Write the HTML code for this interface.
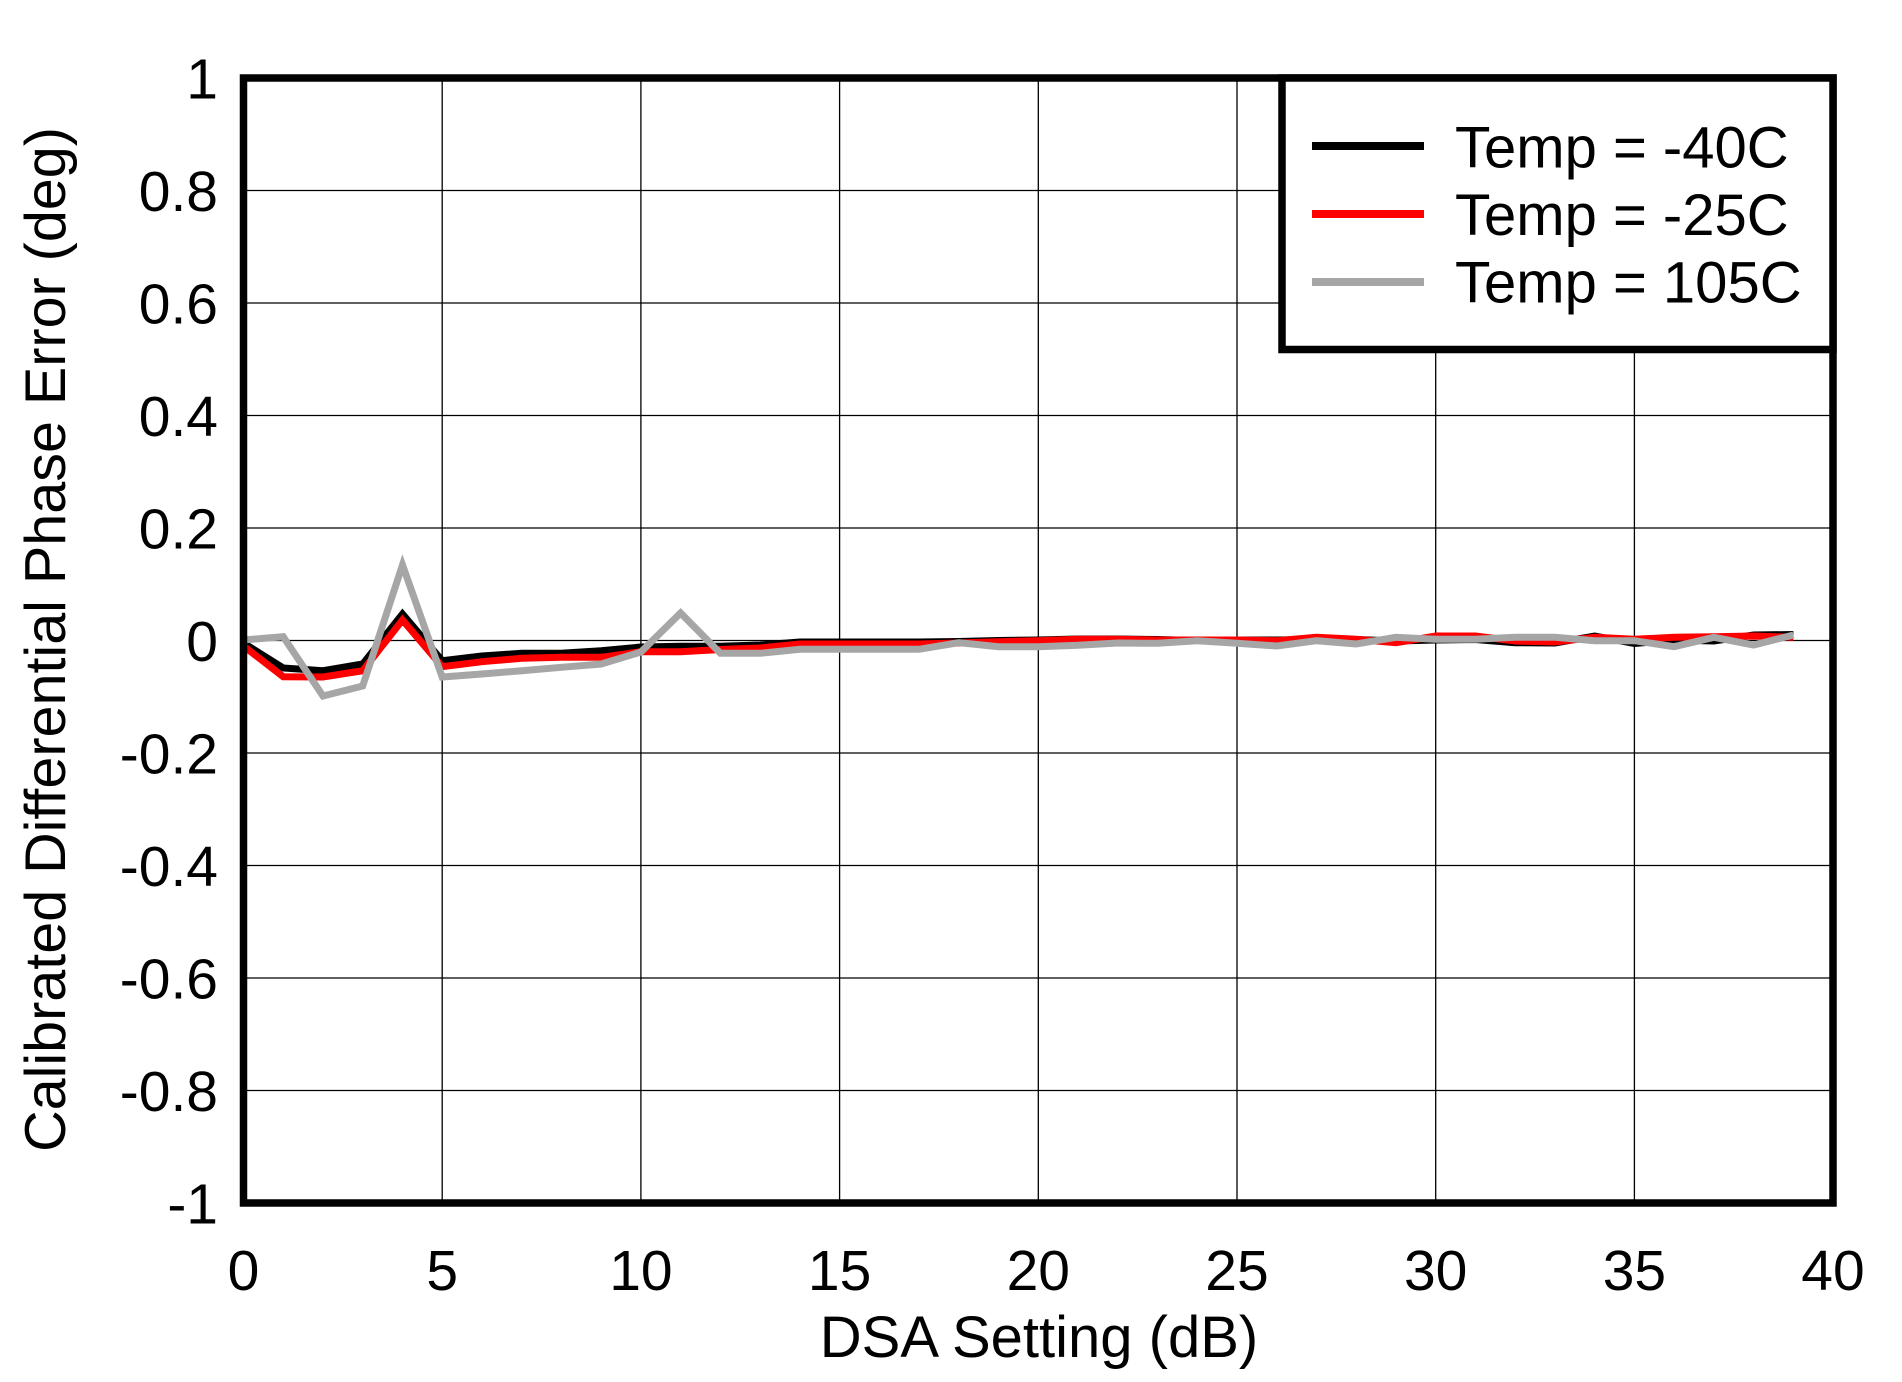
<!DOCTYPE html>
<html>
<head>
<meta charset="utf-8">
<style>
  html, body { margin: 0; padding: 0; background: #ffffff; }
  svg { display: block; }
  text { font-family: "Liberation Sans", Arial, sans-serif; fill: #000; }
</style>
</head>
<body>
<svg width="1902" height="1382" viewBox="0 0 1902 1382" xmlns="http://www.w3.org/2000/svg">
  <rect x="0" y="0" width="1902" height="1382" fill="#ffffff"/>

  <!-- gridlines -->
  <g stroke="#000" stroke-width="1.3">
    <line x1="442.2" y1="78" x2="442.2" y2="1203"/>
    <line x1="640.9" y1="78" x2="640.9" y2="1203"/>
    <line x1="839.6" y1="78" x2="839.6" y2="1203"/>
    <line x1="1038.3" y1="78" x2="1038.3" y2="1203"/>
    <line x1="1237" y1="78" x2="1237" y2="1203"/>
    <line x1="1435.7" y1="78" x2="1435.7" y2="1203"/>
    <line x1="1634.4" y1="78" x2="1634.4" y2="1203"/>

    <line x1="243.5" y1="190.5" x2="1833" y2="190.5"/>
    <line x1="243.5" y1="303" x2="1833" y2="303"/>
    <line x1="243.5" y1="415.5" x2="1833" y2="415.5"/>
    <line x1="243.5" y1="528" x2="1833" y2="528"/>
    <line x1="243.5" y1="640.5" x2="1833" y2="640.5"/>
    <line x1="243.5" y1="753" x2="1833" y2="753"/>
    <line x1="243.5" y1="865.5" x2="1833" y2="865.5"/>
    <line x1="243.5" y1="978" x2="1833" y2="978"/>
    <line x1="243.5" y1="1090.5" x2="1833" y2="1090.5"/>
  </g>

  <!-- series -->
  <g fill="none" stroke-width="7" stroke-linejoin="miter" stroke-miterlimit="10">
    <polyline stroke="#000000" points="
      243.5,643 283.2,668 323,670.7 362.7,664 402.5,614 442.2,660.7 481.9,656 521.7,653.3 561.4,653.3 601.2,650.7
      640.9,647 680.6,646.3 720.4,646.3 760.1,645 799.9,642 839.6,642 879.3,642 919.1,642 958.8,641.5 998.6,640.5
      1038.3,640 1078,639 1117.8,639 1157.5,639.5 1197.3,640.5 1237,640 1276.7,640 1316.5,639.5 1356.2,639.5 1396,641
      1435.7,640 1475.4,639.5 1515.2,642.7 1554.9,643 1594.7,636 1634.4,643.5 1674.1,640 1713.9,641 1753.6,635 1793.4,634.5"/>
    <polyline stroke="#ff0000" points="
      243.5,646 283.2,676.7 323,677 362.7,670.7 402.5,620 442.2,666.7 481.9,661.7 521.7,658.3 561.4,657.3 601.2,657.3
      640.9,651.7 680.6,651.7 720.4,649.5 760.1,648 799.9,644 839.6,644 879.3,644 919.1,644 958.8,643 998.6,641.7
      1038.3,640.7 1078,639.3 1117.8,639.3 1157.5,640 1197.3,640 1237,640 1276.7,640.7 1316.5,637.3 1356.2,639.3 1396,642.7
      1435.7,636 1475.4,636 1515.2,641 1554.9,642 1594.7,637.3 1634.4,639.3 1674.1,637.3 1713.9,636.7 1753.6,636 1793.4,637.3"/>
    <polyline stroke="#a6a6a6" points="
      243.5,640 283.2,636.7 323,696 362.7,686 402.5,565 442.2,677 481.9,674 521.7,670.7 561.4,667.3 601.2,664
      640.9,652 680.6,613 720.4,653.3 760.1,653.3 799.9,649.3 839.6,649.3 879.3,649.3 919.1,649.3 958.8,642.7 998.6,646.7
      1038.3,646.7 1078,645.3 1117.8,643 1157.5,643.3 1197.3,640.7 1237,643.3 1276.7,646 1316.5,640.7 1356.2,644 1396,637.3
      1435.7,639.3 1475.4,639.3 1515.2,637.3 1554.9,637.3 1594.7,640.7 1634.4,640.7 1674.1,646.7 1713.9,637.3 1753.6,645 1793.4,635"/>
  </g>

  <!-- plot frame -->
  <rect x="243.5" y="78" width="1589.5" height="1125" fill="none" stroke="#000" stroke-width="7.5"/>

  <!-- legend -->
  <rect x="1282" y="78" width="551" height="271.5" fill="#ffffff" stroke="#000" stroke-width="7.5"/>
  <line x1="1312" y1="146" x2="1424" y2="146" stroke="#000000" stroke-width="8"/>
  <line x1="1312" y1="214" x2="1424" y2="214" stroke="#ff0000" stroke-width="8"/>
  <line x1="1312" y1="282" x2="1424" y2="282" stroke="#a6a6a6" stroke-width="8"/>
  <text x="1455" y="167.3" font-size="58">Temp = -40C</text>
  <text x="1455" y="235" font-size="58">Temp = -25C</text>
  <text x="1455" y="302.7" font-size="58">Temp = 105C</text>

  <!-- y tick labels -->
  <g font-size="57" text-anchor="end">
    <text x="218" y="98.5">1</text>
    <text x="218" y="211">0.8</text>
    <text x="218" y="323.5">0.6</text>
    <text x="218" y="436">0.4</text>
    <text x="218" y="548.5">0.2</text>
    <text x="218" y="661">0</text>
    <text x="218" y="773.5">-0.2</text>
    <text x="218" y="886">-0.4</text>
    <text x="218" y="998.5">-0.6</text>
    <text x="218" y="1111">-0.8</text>
    <text x="218" y="1223.5">-1</text>
  </g>

  <!-- x tick labels -->
  <g font-size="57" text-anchor="middle">
    <text x="243.5" y="1290">0</text>
    <text x="442.2" y="1290">5</text>
    <text x="640.9" y="1290">10</text>
    <text x="839.6" y="1290">15</text>
    <text x="1038.3" y="1290">20</text>
    <text x="1237" y="1290">25</text>
    <text x="1435.7" y="1290">30</text>
    <text x="1634.4" y="1290">35</text>
    <text x="1833" y="1290">40</text>
  </g>

  <!-- axis titles -->
  <text x="1039" y="1357" font-size="58" text-anchor="middle">DSA Setting (dB)</text>
  <text transform="translate(65,639.5) rotate(-90)" font-size="57.5" text-anchor="middle">Calibrated Differential Phase Error (deg)</text>
</svg>
</body>
</html>
